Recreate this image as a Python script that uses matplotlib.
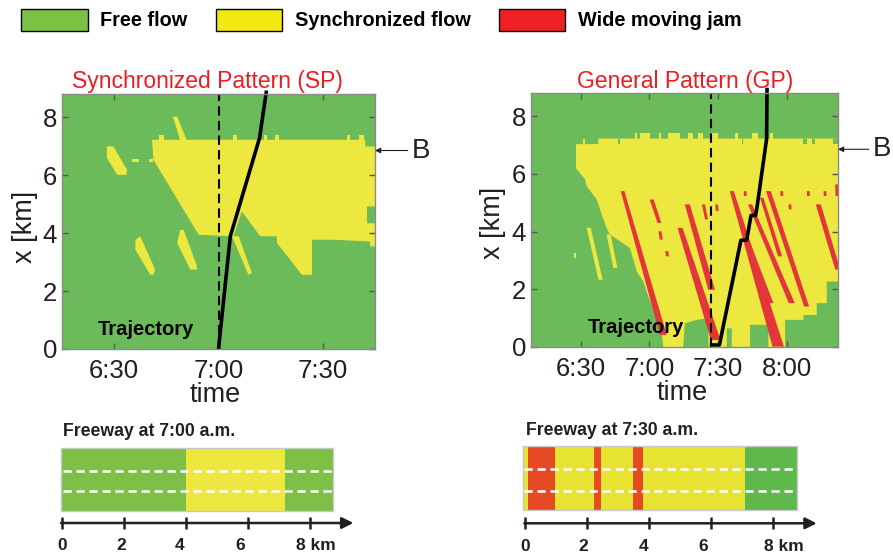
import matplotlib
matplotlib.use('Agg')
import matplotlib.pyplot as plt
from matplotlib import font_manager
from matplotlib.patches import Patch
import numpy as np

plt.rcParams['font.family'] = ['Liberation Sans', 'DejaVu Sans']

GREEN = '#6cbb5a'
YELLOW = '#ede840'
RED = '#e2363a'
INK = '#231f20'

# time axis: minutes after 6:00, space axis: km

# ---------------- Synchronized Pattern (SP) ----------------
sp_tlim = (15, 105)
sp_ticks = [30, 60, 90]
sp_ticklabels = ['6:30', '7:00', '7:30']

sp_main_t = [40.9, 102.2, 102.2, 106, 106, 102.7, 102.7, 106, 106, 103.6, 103.6, 93.1,
             86.9, 86.9, 84.0, 76.8, 76.8, 72.0, 66.7, 64.3, 54.3, 41.3]
sp_main_x = [7.22, 7.22, 6.99, 6.99, 4.92, 4.92, 4.34, 4.34, 3.54, 3.54, 3.71, 3.77,
             3.77, 2.56, 2.56, 3.66, 3.89, 3.89, 4.75, 3.89, 3.94, 6.53]

sp_blobs_t = [[27.9, 29.8, 33.7, 33.5, 30.9, 27.9],
              [35.1, 37.0, 37.0, 35.1],
              [40.0, 41.3, 41.3, 40.0],
              [46.9, 48.1, 50.9, 49.0],
              [36.1, 37.5, 41.8, 41.3, 40.4, 36.1],
              [49.0, 50.0, 53.8, 53.8, 51.9, 48.1],
              [63.9, 65.8, 69.6, 68.6]]
sp_blobs_x = [[6.99, 6.99, 6.18, 6.01, 6.01, 6.59],
              [6.56, 6.56, 6.45, 6.45],
              [6.56, 6.56, 6.45, 6.45],
              [8.02, 8.02, 7.20, 7.20],
              [3.77, 3.89, 2.74, 2.56, 2.56, 3.43],
              [4.11, 4.11, 2.85, 2.74, 2.74, 3.66],
              [3.89, 3.89, 2.62, 2.56]]

sp_bump_t0 = [42.8, 64.3, 73.0, 76.3, 96.9, 100.3]
sp_bump_t1 = [44.2, 65.3, 73.9, 77.3, 97.9, 101.7]

sp_traj_t = [60.0, 63.4, 71.8, 73.8]
sp_traj_x = [0.0, 3.89, 7.28, 8.92]
sp_probe_t = 60.0

# ---------------- General Pattern (GP) ----------------
gp_tlim = (8.3, 142.4)
gp_ticks = [30, 60, 90, 120]
gp_ticklabels = ['6:30', '7:00', '7:30', '8:00']

gp_main_t = [27.95, 27.95, 37.7, 37.7, 144, 144, 137.5, 137.5, 133.1, 133.1, 127.3, 127.3,
             119.3, 119.3, 112.0, 112.0, 104.0, 104.0, 96.0, 96.0, 93.8, 93.8, 85.8, 85.8,
             80.7, 75.5, 74.8, 66.1, 65.4, 58.8, 57.4, 54.5, 51.5, 42.8, 41.3, 39.2, 37.0,
             32.6, 31.9, 28.2]
gp_main_x = [6.21, 7.03, 7.03, 7.22, 7.22, 2.27, 2.27, 1.52, 1.52, 1.11, 1.11, 0.94,
             0.94, 0.0, 0.0, 0.77, 0.77, 0.0, 0.0, 0.65, 0.65, 0.0, 0.0, 1.0,
             0.94, 0.82, 0.0, 0.0, 0.53, 1.92, 2.27, 2.62, 3.43, 3.90, 4.13, 4.59, 5.11,
             5.58, 5.81, 6.16]

gp_blobs_t = [[32.6, 34.4, 39.6, 37.8],
              [41.3, 43.1, 46.0, 44.3],
              [27.3, 27.8, 27.8, 27.3]]
gp_blobs_x = [[4.13, 4.13, 2.33, 2.33],
              [3.90, 3.90, 2.74, 2.74],
              [3.25, 3.25, 3.10, 3.10]]

gp_bump_t0 = [31.1, 53.7, 55.9, 64.4, 68.3, 77.0, 81.4, 87.2, 97.4, 104.7, 112.7]
gp_bump_t1 = [31.9, 54.5, 60.3, 65.2, 73.4, 79.2, 83.6, 90.1, 98.9, 107.6, 114.2]
gp_bump_lo = [7.03, 7.22, 7.22, 7.22, 7.22, 7.22, 7.22, 7.22, 7.22, 7.22, 7.22]
gp_bump_hi = [7.22, 7.43, 7.43, 7.43, 7.43, 7.43, 7.43, 7.43, 7.43, 7.43, 7.43]

gp_notch_t0 = [46.4, 100.3, 127.3, 130.9, 140.4]
gp_notch_t1 = [47.2, 101.1, 128.7, 132.4, 144.0]

# wide moving jams: top (t0, x0) -> bottom (t1, x1), widths in minutes
jam_t0 = [48.3, 61.0, 64.6, 67.6, 73.4, 76.6, 83.6, 89.4, 96.0, 104.0, 112.0, 109.1, 133.8, 101.1,
          101.8, 117.8, 121.4, 129.4, 136.7, 141.8]
jam_x0 = [5.40, 5.11, 4.01, 3.32, 4.13, 4.94, 4.94, 4.94, 5.40, 4.94, 5.40, 5.17, 4.94, 4.07,
          5.40, 5.40, 4.94, 5.40, 5.40, 5.63]
jam_t1 = [66.1, 64.4, 65.2, 67.9, 89.0, 87.2, 85.0, 89.6, 116.3, 122.2, 128.7, 117.1, 142.3, 112.7,
          101.9, 117.9, 121.5, 129.5, 136.8, 141.9]
jam_x1 = [0.42, 4.30, 3.72, 3.14, 0.24, 1.98, 4.42, 4.71, 0.01, 1.52, 1.40, 3.14, 2.68, 1.52,
          5.23, 5.23, 4.77, 5.23, 5.23, 5.23]
jam_w0 = [1.6, 1.7, 1.3, 1.3, 2.2, 2.2, 1.3, 1.2, 1.8, 1.8, 2.1, 1.5, 2.2, 1.5,
          1.2, 1.2, 1.2, 1.2, 1.2, 1.2]
jam_w1 = [3.0, 1.7, 1.3, 1.3, 4.2, 3.0, 1.3, 1.2, 5.0, 2.6, 2.2, 1.8, 2.2, 3.0,
          1.2, 1.2, 1.2, 1.2, 1.2, 1.2]

gp_traj_t = [87.2, 90.6, 100.0, 102.5, 104.4, 106.4, 107.2, 111.2, 111.4]
gp_traj_x = [0.07, 0.07, 3.70, 3.70, 4.56, 4.56, 4.94, 7.20, 8.92]
gp_probe_t = 86.9

bottleneck_x = 6.85

# ---------------- freeway snapshots ----------------
fw1_edges = [-0.03, 4.0, 7.2, 8.74]
fw1_colors = ['#7dc045', '#ece840', '#7dc045']
fw2_edges = [-0.08, 0.08, 0.95, 2.2, 2.45, 3.48, 3.79, 7.1, 8.77]
fw2_colors = ['#e6e332', '#e64a24', '#e6e332', '#e64a24', '#e6e332', '#e64a24', '#e6e332', '#5fb84b']
km_ticks = [0, 2, 4, 6, 8]
km_labels = ['0', '2', '4', '6', '8 km']
fw1_label_km = [0, 1.9, 3.8, 5.75, 7.55]
fw2_label_km = [0, 1.88, 3.8, 5.75, 7.7]

names = {f.name for f in font_manager.fontManager.ttflist}
if 'Liberation Sans Narrow' in names:
    title_font = dict(family=['Liberation Sans Narrow', 'DejaVu Sans'], size=19.5)
else:
    title_font = dict(family=['Liberation Sans', 'DejaVu Sans'], size=16.5)

fig = plt.figure(figsize=(8.93, 5.54), dpi=100)


def draw_map(ax, tlim, ticks, ticklabels, main_t, main_x, blobs_t, blobs_x):
    ax.set_facecolor(GREEN)
    ax.fill(main_t, main_x, color=YELLOW, lw=0)
    for bt, bx in zip(blobs_t, blobs_x):
        ax.fill(bt, bx, color=YELLOW, lw=0)
    ax.set_xlim(*tlim)
    ax.set_ylim(0, 8.8)
    ax.set_xticks(ticks)
    ax.set_xticklabels(ticklabels)
    ax.set_yticks([0, 2, 4, 6, 8])
    ax.tick_params(direction='in', top=True, right=True, length=4, width=1,
                   color='#555555', labelsize=18.5, labelcolor=INK)
    ax.tick_params(axis='x', pad=7)
    for s in ax.spines.values():
        s.set_color('#8a8a8a')
        s.set_linewidth(1)
    ax.set_xlabel('time', fontsize=19.5, color=INK, va='center')
    ax.set_ylabel('x [km]', fontsize=19.5, color=INK, va='center')


# SP
ax1 = fig.add_axes([62 / 893, 1 - 349 / 554, 313 / 893, 255 / 554])
draw_map(ax1, sp_tlim, sp_ticks, sp_ticklabels, sp_main_t, sp_main_x, sp_blobs_t, sp_blobs_x)
ax1.bar(sp_bump_t0, 0.17, bottom=7.22, width=np.subtract(sp_bump_t1, sp_bump_t0),
        align='edge', color=YELLOW, lw=0)
ax1.axvline(sp_probe_t, color='black', lw=1.5, ls=(0, (4.5, 2.5)))
ax1.plot(sp_traj_t, sp_traj_x, color='black', lw=2.6, clip_on=False, solid_capstyle='butt')
ax1.text(25.4, 0.66, 'Trajectory', fontsize=14.5, fontweight='bold', color='black', va='center')
ax1.xaxis.set_label_coords(0.49, -0.18)
ax1.yaxis.set_label_coords(-0.118, 0.48)

# GP
ax2 = fig.add_axes([531 / 893, 1 - 347 / 554, 307 / 893, 254 / 554])
draw_map(ax2, gp_tlim, gp_ticks, gp_ticklabels, gp_main_t, gp_main_x, gp_blobs_t, gp_blobs_x)
ax2.bar(gp_bump_t0, np.subtract(gp_bump_hi, gp_bump_lo), bottom=gp_bump_lo,
        width=np.subtract(gp_bump_t1, gp_bump_t0), align='edge', color=YELLOW, lw=0)
ax2.bar(gp_notch_t0, 0.19, bottom=7.03, width=np.subtract(gp_notch_t1, gp_notch_t0),
        align='edge', color=GREEN, lw=0)
for t0, x0, t1, x1, w0, w1 in zip(jam_t0, jam_x0, jam_t1, jam_x1, jam_w0, jam_w1):
    ax2.fill([t0 - w0 / 2, t0 + w0 / 2, t1 + w1 / 2, t1 - w1 / 2], [x0, x0, x1, x1],
             color=RED, lw=0)
ax2.axvline(gp_probe_t, color='black', lw=1.5, ls=(0, (4.5, 2.5)))
ax2.plot(gp_traj_t, gp_traj_x, color='black', lw=2.6, clip_on=False, solid_joinstyle='round')
ax2.text(33.2, 0.66, 'Trajectory', fontsize=14.5, fontweight='bold', color='black', va='center')
ax2.xaxis.set_label_coords(0.493, -0.181)
ax2.yaxis.set_label_coords(-0.124, 0.49)

for ax, off in ((ax1, 1.118), (ax2, 1.114)):
    ax.annotate('B', xy=(1.0, bottleneck_x), xycoords=('axes fraction', 'data'),
                xytext=(off, bottleneck_x), textcoords=('axes fraction', 'data'),
                fontsize=20, color=INK, ha='left', va='center',
                arrowprops=dict(arrowstyle='-|>', color=INK, lw=0.8, mutation_scale=8,
                                shrinkA=1, shrinkB=0))

fig.text(207.5 / 893, 1 - 88 / 554, 'Synchronized Pattern (SP)', color='#ed1c24',
         ha='center', va='baseline', **title_font)
fig.text(685.5 / 893, 1 - 88 / 554, 'General Pattern (GP)', color='#ed1c24',
         ha='center', va='baseline', **title_font)

# legend
handles = [Patch(facecolor='#7bc143', edgecolor='black', lw=1),
           Patch(facecolor='#f3e910', edgecolor='black', lw=1),
           Patch(facecolor='#ee2024', edgecolor='black', lw=1)]
fig.legend(handles, ['Free flow', 'Synchronized flow', 'Wide moving jam'],
           loc='upper left', bbox_to_anchor=(21 / 893, 1 - 9 / 554), ncol=3, frameon=False,
           prop=dict(weight='bold', size=14.3), handlelength=3.35, handleheight=1.3,
           handletextpad=0.65, columnspacing=1.4, borderpad=0, borderaxespad=0)


def draw_freeway(rect, xlim, edges, colors, label_km, title, ybar, hbar, dash_y, yaxis, ylab, ytitle):
    ax = fig.add_axes(rect)
    ax.set_xlim(*xlim)
    ax.set_ylim(144, 0)
    ax.axis('off')
    ax.barh(ybar, np.diff(edges), left=edges[:-1], height=hbar, color=colors, lw=0)
    ax.barh(ybar, edges[-1] - edges[0], left=edges[0], height=hbar, fill=False,
            edgecolor='#c8c8c8', lw=1)
    for yd in dash_y:
        ax.plot([edges[0] + 0.05, edges[-1]], [yd, yd], color='white', lw=1.8,
                ls=(0, (3.3, 1.9)))
    ax.annotate('', xy=(9.4, yaxis), xytext=(-0.03, yaxis),
                arrowprops=dict(arrowstyle='-|>', color=INK, lw=1.8, mutation_scale=17,
                                shrinkA=0, shrinkB=0))
    ax.vlines(km_ticks, yaxis - 6, yaxis + 6, color=INK, lw=1.8)
    for k, lab in zip(label_km, km_labels):
        ax.text(k, ylab, lab, ha='left' if lab.endswith('km') else 'center', va='center',
                fontsize=12.5, fontweight='bold', color=INK)
    ax.text(0.02, ytitle, title, ha='left', va='center', fontsize=12.7,
            fontweight='bold', color=INK)
    return ax


draw_freeway([0, 0, 446 / 893, 144 / 554], (-2.0, 12.387), fw1_edges, fw1_colors, fw1_label_km,
             'Freeway at 7:00 a.m.', 69.5, 63, [60.7, 81], 113, 135, 21)
draw_freeway([446 / 893, 0, 447 / 893, 144 / 554], (-2.558, 11.861), fw2_edges, fw2_colors,
             fw2_label_km, 'Freeway at 7:30 a.m.', 68, 64, [59.3, 81], 113.3, 136.7, 20.7)

fig.savefig('out.png', dpi=100)
